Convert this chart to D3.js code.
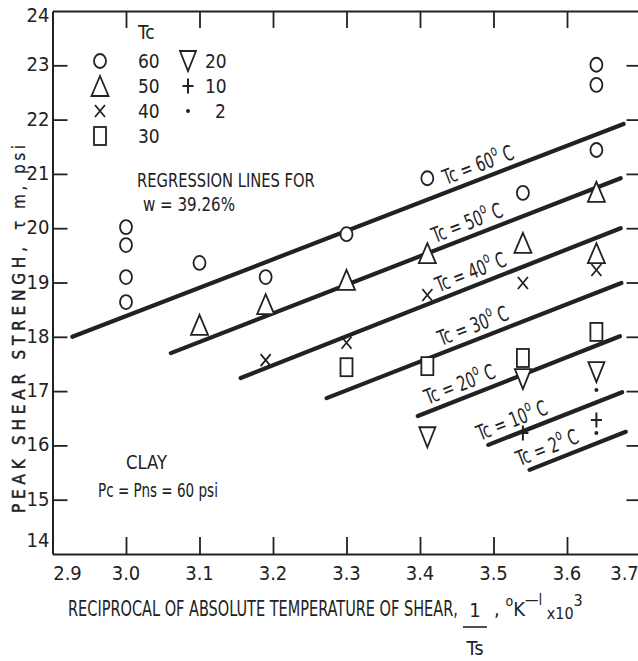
<!DOCTYPE html>
<html>
<head>
<meta charset="utf-8">
<script src="https://cdn.jsdelivr.net/npm/d3@7"></script>
<style>
  html, body { margin: 0; padding: 0; background: #fff; }
  svg { display: block; }
  text { font-family: "Liberation Sans Narrow", "DejaVu Sans Condensed", "Arial Narrow", sans-serif; fill: #222; }
</style>
</head>
<body>
<svg id="chart" width="638" height="661"></svg>
<script>
// Axis ticks
const xTickValues = [2.9, 3.0, 3.1, 3.2, 3.3, 3.4, 3.5, 3.6, 3.7];
const xTickLabels = ["2.9", "3.0", "3.1", "3.2", "3.3", "3.4", "3.5", "3.6", "3.7"];
const yTickValues = [14, 15, 16, 17, 18, 19, 20, 21, 22, 23, 24];
const yTickLabels = ["14", "15", "16", "17", "18", "19", "20", "21", "22", "23", "24"];

// Peak shear strength (psi) against 1/Ts (x10^3), by consolidation temperature Tc
const tc60 = [[3.00, 20.02], [3.00, 19.69], [3.00, 19.10], [3.00, 18.64], [3.10, 19.36], [3.19, 19.10],
              [3.30, 19.89], [3.41, 20.92], [3.54, 20.65], [3.64, 23.01], [3.64, 22.64], [3.64, 21.44]];
const tc50 = [[3.10, 18.22], [3.19, 18.60], [3.30, 19.05], [3.41, 19.54], [3.54, 19.73], [3.64, 20.67], [3.64, 19.54]];
const tc40 = [[3.19, 17.57], [3.30, 17.89], [3.41, 18.77], [3.54, 18.99], [3.64, 19.23]];
const tc30 = [[3.30, 17.44], [3.41, 17.46], [3.54, 17.61], [3.64, 18.09]];
const tc20 = [[3.41, 16.15], [3.54, 17.22], [3.64, 17.35]];
const tc10 = [[3.54, 16.23], [3.64, 16.47]];
const tc2  = [[3.64, 17.02], [3.64, 16.23]];

// Regression lines for w = 39.26 %
const regTc     = [60, 50, 40, 30, 20, 10, 2];
const regX0     = [2.927, 3.061, 3.156, 3.273, 3.397, 3.493, 3.549];
const regY0     = [18.00, 17.70, 17.24, 16.87, 16.54, 16.01, 15.55];
const regX1     = [3.677, 3.673, 3.673, 3.674, 3.672, 3.675, 3.680];
const regY1     = [21.92, 20.92, 20.00, 18.99, 18.01, 16.98, 16.25];
const regLabelX = [3.486, 3.471, 3.476, 3.479, 3.461, 3.532, 3.580];

// Legend entries (Tc value and marker shape)
const legendTc     = ["60", "50", "40", "30", "20", "10", "2"];
const legendShapes = ["circle", "triUp", "cross", "square", "triDown", "plus", "dot"];

const series = [
  { shape: "circle", data: tc60 },
  { shape: "triUp", data: tc50 },
  { shape: "cross", data: tc40 },
  { shape: "square", data: tc30 },
  { shape: "triDown", data: tc20 },
  { shape: "plus", data: tc10 },
  { shape: "dot", data: tc2 }
];

const ink = "#222";
const svg = d3.select("#chart");

const x = d3.scaleLinear().domain([2.9, 3.7]).range([52.5, 640.5]);
const y = d3.scaleLinear().domain([14, 24]).range([554, 11]);

// ---- frame and ticks (ticks point inward on all four sides)
const inner = xTickValues.slice(1, -1);
const innerY = yTickValues.slice(1, -1);

function styleAxis(g) {
  g.selectAll("path").attr("stroke", ink).attr("stroke-width", 2);
  g.selectAll("line").attr("stroke", ink).attr("stroke-width", 1.8);
  g.selectAll("text").remove();
}

svg.append("g").attr("transform", `translate(0,${y(14)})`)
  .call(d3.axisBottom(x).tickValues(inner).tickSize(-17).tickSizeOuter(0)).call(styleAxis);
svg.append("g").attr("transform", `translate(0,${y(24)})`)
  .call(d3.axisTop(x).tickValues(inner).tickSize(-17).tickSizeOuter(0)).call(styleAxis);
svg.append("g").attr("transform", `translate(${x(2.9)},0)`)
  .call(d3.axisLeft(y).tickValues(innerY).tickSize(-15).tickSizeOuter(0)).call(styleAxis);
svg.append("g").attr("transform", `translate(${x(3.7)},0)`)
  .call(d3.axisRight(y).tickValues(innerY).tickSize(-14).tickSizeOuter(0)).call(styleAxis);

// ---- tick labels
svg.append("g").selectAll("text").data(xTickValues).join("text")
  .attr("x", (d, i) => x(d) + (i === 0 ? 15 : i === xTickValues.length - 1 ? -16 : 0))
  .attr("y", y(14) + 19)
  .attr("dy", "0.35em")
  .attr("text-anchor", "middle")
  .attr("font-size", 20)
  .text((d, i) => xTickLabels[i]);

svg.append("g").selectAll("text").data(yTickValues).join("text")
  .attr("x", x(2.9) - 3)
  .attr("y", (d, i) => y(d) + (i === 0 ? -14 : i === yTickValues.length - 1 ? 4 : -1))
  .attr("dy", "0.35em")
  .attr("text-anchor", "end")
  .attr("font-size", 20)
  .text((d, i) => yTickLabels[i]);

// ---- regression lines
const reg = regTc.map((t, i) => ({ tc: t, x0: regX0[i], y0: regY0[i], x1: regX1[i], y1: regY1[i], lx: regLabelX[i] }));

svg.append("g").selectAll("line").data(reg).join("line")
  .attr("x1", d => x(d.x0)).attr("y1", d => y(d.y0))
  .attr("x2", d => x(d.x1)).attr("y2", d => y(d.y1))
  .attr("stroke", ink).attr("stroke-width", 4.2).attr("stroke-linecap", "round");

// labels written along each line, in tall condensed lettering
const lab = svg.append("g").selectAll("text").data(reg).join("text")
  .attr("transform", d => {
    const t = (d.lx - d.x0) / (d.x1 - d.x0);
    const py = y(d.y0 + t * (d.y1 - d.y0));
    const ang = Math.atan2(y(d.y1) - y(d.y0), x(d.x1) - x(d.x0)) * 180 / Math.PI;
    return `translate(${x(d.lx)},${py}) rotate(${ang}) scale(0.76,1)`;
  })
  .attr("y", -7)
  .attr("text-anchor", "middle")
  .attr("font-size", 21);
lab.append("tspan").text(d => `Tc = ${d.tc}`);
lab.append("tspan").attr("dy", -10).attr("font-size", 15).text("o");
lab.append("tspan").attr("dy", 10).text(" C");

// ---- markers
function drawMarker(g, shape, cx, cy) {
  const s = { stroke: ink, "stroke-width": 1.8, fill: "#fff" };
  const apply = (el) => { Object.entries(s).forEach(([k, v]) => el.attr(k, v)); return el; };
  if (shape === "circle") {
    apply(g.append("ellipse")).attr("cx", cx).attr("cy", cy).attr("rx", 6).attr("ry", 7);
  } else if (shape === "triUp") {
    apply(g.append("path")).attr("d", `M${cx},${cy - 10}L${cx + 8.5},${cy + 10}L${cx - 8.5},${cy + 10}Z`);
  } else if (shape === "triDown") {
    apply(g.append("path")).attr("d", `M${cx - 8},${cy - 10}L${cx + 8},${cy - 10}L${cx},${cy + 10}Z`);
  } else if (shape === "square") {
    apply(g.append("rect")).attr("x", cx - 6).attr("y", cy - 9).attr("width", 12).attr("height", 18);
  } else if (shape === "cross") {
    apply(g.append("path")).attr("fill", "none")
      .attr("d", `M${cx - 5},${cy - 6}L${cx + 5},${cy + 6}M${cx + 5},${cy - 6}L${cx - 5},${cy + 6}`);
  } else if (shape === "plus") {
    apply(g.append("path")).attr("fill", "none").attr("stroke-width", 2)
      .attr("d", `M${cx},${cy - 7.5}L${cx},${cy + 7.5}M${cx - 5.5},${cy}L${cx + 5.5},${cy}`);
  } else if (shape === "dot") {
    g.append("circle").attr("cx", cx).attr("cy", cy).attr("r", 2).attr("fill", ink);
  }
}

const markers = svg.append("g");
series.forEach(s => s.data.forEach(d => drawMarker(markers, s.shape, x(d[0]), y(d[1]))));

// ---- legend
const legend = svg.append("g");
legend.append("text").attr("x", 138).attr("y", 32).attr("dy", "0.35em").attr("font-size", 19).text("Tc");
legendTc.forEach((t, i) => {
  const col = i < 4 ? 0 : 1;
  const row = col === 0 ? i : i - 4;
  const sx = col === 0 ? 100 : 188;
  const tx = col === 0 ? 138 : 205;
  const ry = 61 + row * 25;
  drawMarker(legend, legendShapes[i], sx, ry);
  legend.append("text").attr("x", tx + (t === "2" ? 10 : 0)).attr("y", ry).attr("dy", "0.35em").attr("font-size", 19).text(t);
});

// Text squeezed horizontally to a given width, starting at (left, baseline)
function fittedText(g, str, left, baseline, width, size) {
  const t = g.append("text").attr("font-size", size).text(str);
  const natural = t.node().getComputedTextLength();
  const k = natural > 0 ? width / natural : 1;
  t.attr("transform", `translate(${left},${baseline}) scale(${k},1)`);
  return t;
}

// ---- annotations
const notes = svg.append("g");
fittedText(notes, "REGRESSION LINES FOR", 137, 187, 178, 19);
fittedText(notes, "w = 39.26%", 143, 211, 92, 19);
fittedText(notes, "CLAY", 126, 469, 41, 19);
fittedText(notes, "Pc = Pns = 60 psi", 98, 497, 120, 19);

// ---- x-axis title
const xt = svg.append("g");
fittedText(xt, "RECIPROCAL OF ABSOLUTE TEMPERATURE OF SHEAR,", 68, 616, 390, 21);
xt.append("text").attr("x", 475).attr("y", 617).attr("font-size", 20).attr("text-anchor", "middle").text("1");
xt.append("line").attr("x1", 463).attr("x2", 487).attr("y1", 627).attr("y2", 627).attr("stroke", ink).attr("stroke-width", 1.6);
xt.append("text").attr("x", 475).attr("y", 655).attr("font-size", 20).attr("text-anchor", "middle").text("Ts");
// units: , °K^-1 x10^3
const units = xt.append("text").attr("x", 494).attr("y", 616).attr("font-size", 20);
units.append("tspan").text(",  ");
units.append("tspan").attr("dy", -10).attr("font-size", 14).text("o");
units.append("tspan").attr("dy", 10).text("K");
units.append("tspan").attr("dy", -11).attr("font-size", 15).text("\u2014l");
units.append("tspan").attr("dy", 14).attr("font-size", 16).text(" x10");
units.append("tspan").attr("dy", -13).attr("font-size", 16).text("3");

// ---- y-axis title
const yt = svg.append("g")
  .attr("font-family", "'Liberation Sans', Arial, sans-serif").attr("font-size", 17)
  .attr("stroke", ink).attr("stroke-width", 0.45);
yt.append("text").attr("transform", "translate(25,513) rotate(-90)")
  .attr("textLength", 266).attr("lengthAdjust", "spacing")
  .text("PEAK SHEAR STRENGH,");
yt.append("text").attr("transform", "translate(25,230) rotate(-90)")
  .attr("stroke-width", 0.2)
  .attr("textLength", 85).attr("lengthAdjust", "spacing")
  .text("\u03c4 m,  psi");
</script>
</body>
</html>
